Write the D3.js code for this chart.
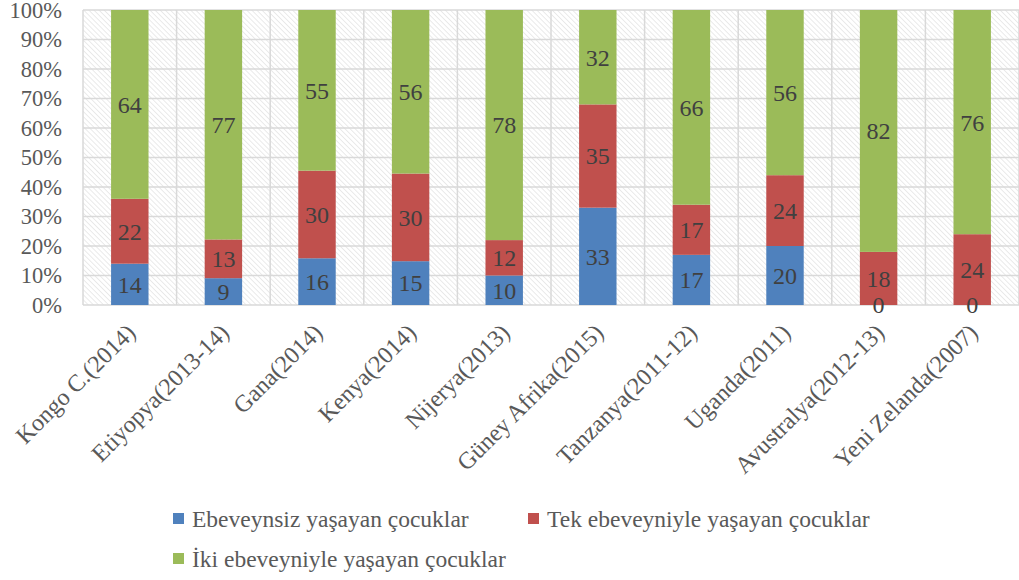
<!DOCTYPE html>
<html>
<head>
<meta charset="utf-8">
<script src="https://cdn.jsdelivr.net/npm/d3@7"></script>
<style>
  body { margin: 0; background: #fff; }
</style>
</head>
<body>
<div id="chart-area"></div>
<script>
const categories = ['Kongo C.(2014)', 'Etiyopya(2013-14)', 'Gana(2014)', 'Kenya(2014)', 'Nijerya(2013)',
  'Güney Afrika(2015)', 'Tanzanya(2011-12)', 'Uganda(2011)', 'Avustralya(2012-13)', 'Yeni Zelanda(2007)'];
const noParent = [14, 9, 16, 15, 10, 33, 17, 20, 0, 0];
const oneParent = [22, 13, 30, 30, 12, 35, 17, 24, 18, 24];
const twoParents = [64, 77, 55, 56, 78, 32, 66, 56, 82, 76];
const seriesNames = ['Ebeveynsiz yaşayan çocuklar', 'Tek ebeveyniyle yaşayan çocuklar', 'İki ebeveyniyle yaşayan çocuklar'];
const colors = ['#4f81bd', '#c0504d', '#9bbb59'];
const yTicks = [0, 10, 20, 30, 40, 50, 60, 70, 80, 90, 100];

const FONT = '"Liberation Serif", "DejaVu Serif", "Times New Roman", serif';

const margins = { top: 10, right: 0, bottom: 275, left: 83 };
const width = 1019 - margins.left - margins.right;
const height = 580 - margins.top - margins.bottom;

const svg = d3.select('#chart-area')
  .append('svg')
  .attr('width', 1019)
  .attr('height', 580)
  .style('font-family', FONT);

const defs = svg.append('defs');
const pat = defs.append('pattern')
  .attr('id', 'hatch')
  .attr('patternUnits', 'userSpaceOnUse')
  .attr('width', 3.6)
  .attr('height', 3.6)
  .attr('patternTransform', 'rotate(-45)');
pat.append('line')
  .attr('x1', 0).attr('y1', 0).attr('x2', 0).attr('y2', 3.6)
  .attr('stroke', '#d6d6d6')
  .attr('stroke-width', 1);

const g = svg.append('g')
  .attr('transform', 'translate(' + margins.left + ', ' + margins.top + ')');

const x = d3.scaleBand()
  .domain(categories)
  .range([0, width])
  .paddingInner(0.6)
  .paddingOuter(0.3);

const y = d3.scaleLinear()
  .domain([0, 100])
  .range([height, 0]);

const step = x.step();

// background hatch
g.append('rect')
  .attr('width', width)
  .attr('height', height)
  .attr('fill', 'url(#hatch)');

// gridlines
g.selectAll('.hgrid')
  .data(yTicks)
  .enter()
  .append('line')
  .attr('x1', 0).attr('x2', width)
  .attr('y1', (d) => y(d)).attr('y2', (d) => y(d))
  .attr('stroke', '#d9d9d9')
  .attr('stroke-width', 1.5);

g.selectAll('.vgrid')
  .data(d3.range(categories.length + 1))
  .enter()
  .append('line')
  .attr('x1', (i) => x(categories[0]) - x.bandwidth() * 0.75 + i * step)
  .attr('x2', (i) => x(categories[0]) - x.bandwidth() * 0.75 + i * step)
  .attr('y1', 0).attr('y2', height)
  .attr('stroke', '#d9d9d9')
  .attr('stroke-width', 1.5);

// stacked data, normalised to 100%
const rows = categories.map((c, i) => {
  const vals = [noParent[i], oneParent[i], twoParents[i]];
  const total = d3.sum(vals);
  let acc = 0;
  return vals.map((v, k) => {
    const y0 = acc / total * 100;
    acc += v;
    return { cat: c, series: k, value: v, y0: y0, y1: acc / total * 100 };
  });
});
const segs = rows.flat();

g.selectAll('rect.seg')
  .data(segs)
  .enter()
  .append('rect')
  .attr('class', 'seg')
  .attr('x', (d) => x(d.cat))
  .attr('y', (d) => y(d.y1))
  .attr('width', x.bandwidth())
  .attr('height', (d) => y(d.y0) - y(d.y1))
  .attr('fill', (d) => colors[d.series]);

g.selectAll('text.lbl')
  .data(segs)
  .enter()
  .append('text')
  .attr('class', 'lbl')
  .attr('x', (d) => x(d.cat) + x.bandwidth() / 2)
  .attr('y', (d) => y((d.y0 + d.y1) / 2))
  .attr('dy', '0.35em')
  .attr('text-anchor', 'middle')
  .attr('font-family', FONT)
  .attr('font-size', 24)
  .attr('fill', '#404040')
  .text((d) => d.value);

// y axis
const yAxis = d3.axisLeft(y)
  .tickValues(yTicks)
  .tickFormat((d) => d + '%')
  .tickSize(0)
  .tickPadding(21);
const yg = g.append('g').call(yAxis).attr('font-family', FONT);
yg.select('.domain').remove();
yg.selectAll('text')
  .attr('font-family', FONT)
  .attr('font-size', 22.5)
  .attr('fill', '#595959');

// x axis
const xAxis = d3.axisBottom(x).tickSize(0).tickPadding(0);
const xg = g.append('g')
  .attr('transform', 'translate(0, ' + height + ')')
  .call(xAxis)
  .attr('font-family', FONT);
xg.select('.domain').remove();
xg.selectAll('text')
  .attr('font-family', FONT)
  .attr('font-size', 24)
  .attr('fill', '#595959')
  .attr('text-anchor', 'end')
  .attr('dy', 0)
  .attr('transform', 'translate(7, 29) rotate(-45)');

// legend
const legendItems = [
  { name: seriesNames[0], color: colors[0], x: 173, y: 527 },
  { name: seriesNames[1], color: colors[1], x: 528, y: 527 },
  { name: seriesNames[2], color: colors[2], x: 173, y: 567 }
];
const lg = svg.selectAll('.legend')
  .data(legendItems)
  .enter()
  .append('g')
  .attr('transform', (d) => 'translate(' + d.x + ', ' + d.y + ')');
lg.append('rect')
  .attr('x', 0).attr('y', -14)
  .attr('width', 11).attr('height', 11)
  .attr('fill', (d) => d.color);
lg.append('text')
  .attr('x', 19)
  .attr('y', 0)
  .attr('font-family', FONT)
  .attr('font-size', 23.5)
  .attr('fill', '#595959')
  .text((d) => d.name);
</script>
</body>
</html>
